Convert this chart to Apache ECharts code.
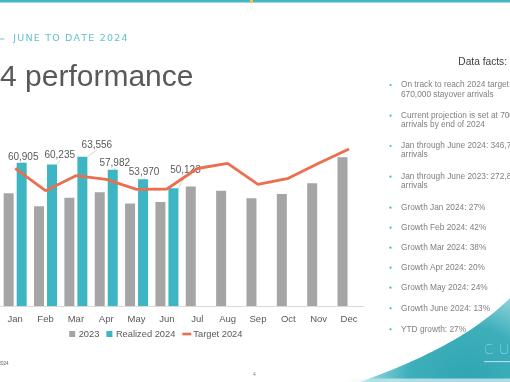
<!DOCTYPE html>
<html>
<head>
<meta charset="utf-8">
<script src="https://cdn.jsdelivr.net/npm/echarts@6/dist/echarts.min.js"></script>
<style>
html,body{margin:0;padding:0;background:#fff;}
#c{width:510px;height:382px;}
</style>
</head>
<body>
<div id="c"></div>
<script>
// ---- data ----
const months = ['Jan','Feb','Mar','Apr','May','Jun','Jul','Aug','Sep','Oct','Nov','Dec'];
const values2023 = [48000, 42500, 46100, 48400, 43600, 44250, 50850, 49060, 45830, 47660, 52210, 63280];
const realized2024 = [60905, 60235, 63556, 57982, 53970, 50123, null, null, null, null, null, null];
const target2024 = [58600, 49060, 55450, 53900, 49660, 49790, 58510, 60720, 51790, 54340, 60720, 66810];
const seriesNames = ['2023', 'Realized 2024', 'Target 2024'];
const headerText = 'JUNE TO DATE 2024';
const titleText = '4 performance';
const factsTitle = 'Data facts:';
const facts = [
  ['On track to reach 2024 target', '670,000 stayover arrivals'],
  ['Current projection is set at 700,000', 'arrivals by end of 2024'],
  ['Jan through June 2024: 346,771', 'arrivals'],
  ['Jan through June 2023: 272,850', 'arrivals'],
  ['Growth Jan 2024: 27%'],
  ['Growth Feb 2024: 42%'],
  ['Growth Mar 2024: 38%'],
  ['Growth Apr 2024: 20%'],
  ['Growth May 2024: 24%'],
  ['Growth June 2024: 13%'],
  ['YTD growth: 27%']
];
const brandText = 'CURAÇAO';

// ---- layout / style (not data) ----
const labelOffsets = [[1.5,-6],[7.7,-9.3],[14.5,-11.7],[2,-6.7],[1,-7],[12,-17.6]];
const factLineY = [[85,94.3],[115.7,125],[146,155],[176.7,186],[207.7],[227.7],[247.7],[267.7],[287.7],[308.3],[329.3]];

const measureCtx = document.createElement('canvas').getContext('2d');
function spaced(str, x0, spacing, y, fill, fontSize, fontFamily, fontWeight) {
  measureCtx.font = (fontWeight || 'normal') + ' ' + fontSize + 'px ' + fontFamily;
  const out = [];
  let x = x0;
  for (const ch of str) {
    out.push({type:'text', x:x, y:y, silent:true,
      style:{text:ch, fill:fill, fontSize:fontSize, fontFamily:fontFamily, fontWeight:fontWeight||'normal', align:'left', verticalAlign:'middle'}});
    x += measureCtx.measureText(ch).width + spacing;
  }
  return out;
}
function bezierPts(p0, p1, p2, p3, n) {
  const pts = [];
  for (let i = 0; i <= n; i++) {
    const t = i / n, u = 1 - t;
    pts.push([
      u*u*u*p0[0] + 3*u*u*t*p1[0] + 3*u*t*t*p2[0] + t*t*t*p3[0],
      u*u*u*p0[1] + 3*u*u*t*p1[1] + 3*u*t*t*p2[1] + t*t*t*p3[1]
    ]);
  }
  return pts;
}

const graphics = [];
// top bar
graphics.push({type:'rect', shape:{x:0,y:0,width:510,height:2.5}, style:{fill:'#45B5C2'}, silent:true});
graphics.push({type:'rect', shape:{x:250,y:0,width:3,height:3}, style:{fill:'#F2C14E'}, silent:true});
// header
graphics.push({type:'rect', shape:{x:0,y:38.5,width:4.5,height:1}, style:{fill:'#6CC6CF'}, silent:true});
graphics.push(...spaced(headerText, 13.3, 1.2, 38.5, '#5FC1CB', 9.5, "'DejaVu Sans'", 'normal'));
// title
graphics.push({type:'text', x:0, y:78, silent:true, style:{text:titleText, fill:'#595959', fontSize:30, fontFamily:"'Liberation Sans', Arial", align:'left', verticalAlign:'middle'}});
// data facts
graphics.push({type:'text', x:507, y:62, silent:true, style:{text:factsTitle, fill:'#404040', fontSize:10.2, fontFamily:"'Liberation Sans', Arial", align:'right', verticalAlign:'middle'}});
facts.forEach((lines, i) => {
  graphics.push({type:'circle', shape:{cx:390.5, cy:factLineY[i][0], r:1.1}, style:{fill:'#45B5C2'}, silent:true});
  lines.forEach((t, j) => {
    graphics.push({type:'text', x:401, y:factLineY[i][j], silent:true, style:{text:t, fill:'#808080', fontSize:8.3, fontFamily:"'Liberation Sans', Arial", align:'left', verticalAlign:'middle'}});
  });
});
// bottom-right swoosh
const swoosh = bezierPts([360,382],[410,364],[470,338],[510,298], 30);
swoosh.push([510,382]);
graphics.push({type:'polygon', silent:true,
  shape:{points:swoosh},
  style:{fill:{type:'radial', x:0.72, y:1.05, r:1.45, colorStops:[
    {offset:0, color:'#2EA5B2'}, {offset:0.5, color:'#3DAFBB'}, {offset:0.8, color:'#8FD3DA'}, {offset:1, color:'#EEF8F9'}]}}});
graphics.push({type:'rect', silent:true, shape:{x:340,y:378.5,width:170,height:3.5},
  style:{fill:{type:'linear', x:0,y:0,x2:1,y2:0, colorStops:[{offset:0,color:'rgba(225,243,246,0)'},{offset:0.3,color:'rgba(225,243,246,0.7)'},{offset:1,color:'rgba(225,243,246,0.7)'}]}}});
graphics.push(...spaced(brandText, 484, 5.5, 349, '#FFFFFF', 14, "Lato", 'lighter'));
graphics.push({type:'rect', shape:{x:484,y:361.3,width:26,height:0.8}, style:{fill:'rgba(255,255,255,0.85)'}, silent:true});
// footer
graphics.push({type:'text', x:8.5, y:364, silent:true, style:{text:'2024', fill:'#595959', fontSize:4.5, fontFamily:"'Liberation Sans', Arial", align:'right', verticalAlign:'middle'}});
graphics.push({type:'text', x:254.5, y:375, silent:true, style:{text:'4', fill:'#808080', fontSize:5, fontFamily:"'Liberation Sans', Arial", align:'center', verticalAlign:'middle'}});

const chart = echarts.init(document.getElementById('c'), null, {renderer:'canvas'});
chart.setOption({
  backgroundColor:'#ffffff',
  animation:false,
  textStyle:{fontFamily:"'Liberation Sans', Arial"},
  grid:{left:-5.4, top:118, width:369.6, height:188, containLabel:false},
  legend:{
    left:69.2, top:329.5, padding:0, itemGap:7, itemWidth:9, itemHeight:6,
    textStyle:{color:'#595959', fontSize:9.3, padding:[0,0,0,-3]},
    data:[
      {name:seriesNames[0], icon:'path://M0,0h6v6h-6z'},
      {name:seriesNames[1], icon:'path://M0,0h6v6h-6z'},
      {name:seriesNames[2], icon:'path://M0,0h9v2.6h-9z'}
    ]
  },
  xAxis:{
    type:'category', data:months,
    axisLine:{lineStyle:{color:'#D9D9D9', width:1}},
    axisTick:{show:false},
    axisLabel:{color:'#595959', fontSize:9.5, margin:8}
  },
  yAxis:{type:'value', min:0, max:80000, show:false, splitLine:{show:false}},
  series:[
    {name:seriesNames[0], type:'bar', data:values2023, barWidth:10, barGap:'30%',
     itemStyle:{color:'#A5A5A5'}},
    {name:seriesNames[1], type:'bar', data:realized2024, barWidth:10, barGap:'30%',
     itemStyle:{color:'#3DB5C2'},
     label:{show:true, position:'top', color:'#595959', fontSize:10,
       formatter:p => p.value == null ? '' : p.value.toLocaleString('en-US')},
     labelLine:{show:true, lineStyle:{color:'#BFBFBF', width:0.7}},
     labelLayout:function(p){
       const o = labelOffsets[p.dataIndex];
       if (!o) return {};
       return {x:p.rect.x + p.rect.width/2 + o[0], y:p.rect.y + o[1], align:'center', verticalAlign:'middle'};
     }},
    {name:seriesNames[2], type:'line', data:target2024, symbol:'none', z:5,
     lineStyle:{color:'#EC6E4E', width:2.8}, itemStyle:{color:'#EC6E4E'}}
  ],
  graphic:graphics
});
</script>
</body>
</html>
